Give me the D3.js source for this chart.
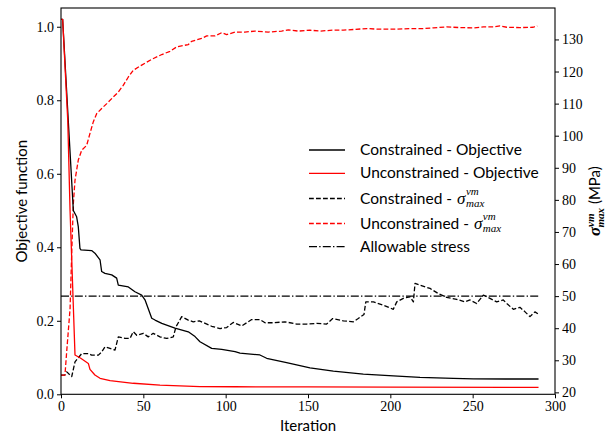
<!DOCTYPE html>
<html><head><meta charset="utf-8">
<script src="https://cdn.jsdelivr.net/npm/d3@7"></script>
<style>body{margin:0;background:#fff}svg{display:block}</style>
</head><body><svg id="c" width="612" height="436"></svg>
<script>
// ---------- data ----------
const xTicks = [0, 50, 100, 150, 200, 250, 300];
const leftTicks = [0.0, 0.2, 0.4, 0.6, 0.8, 1.0];
const rightTicks = [20, 30, 40, 50, 60, 70, 80, 90, 100, 110, 120, 130];

const conObjIter = [0,1,4.4,7.5,9.5,10.5,11.5,12.1,18.6,20.6,23.7,24.7,26.7,30.8,33.8,34.8,40.9,44.9,49,51,55.1,57.1,61.2,69.2,77.3,81.4,84.4,91.5,97.6,105.7,108.7,120.8,124.9,137,151.2,165.4,183.6,201.8,218,238.3,250.4,270,290];
const conObjVal  = [1.02,1.02,0.746,0.50,0.483,0.456,0.397,0.393,0.391,0.384,0.366,0.334,0.329,0.325,0.316,0.297,0.292,0.279,0.270,0.257,0.207,0.202,0.193,0.180,0.170,0.157,0.143,0.125,0.122,0.116,0.112,0.107,0.098,0.086,0.072,0.063,0.055,0.050,0.046,0.0435,0.042,0.0416,0.0416];

const unObjIter = [0,1,4.1,5.5,8.5,12,16.6,17.6,20.6,23.7,29.8,43.9,60.1,84.4,105.7,150,200,290];
const unObjVal  = [1.02,1.02,0.746,0.50,0.107,0.098,0.084,0.068,0.0525,0.0435,0.037,0.030,0.025,0.021,0.0205,0.020,0.0195,0.019];

const conSigIter = [0,2.4,3.5,6.5,8.5,12.6,16.6,18.6,22.7,24.7,26.7,29.8,32.8,34.8,38.9,41.9,43.9,46,50,53,56,60.1,64.2,68.2,69.8,73.3,77.3,80.3,84,91.5,96.6,100.6,104.6,109.7,115.8,120.8,123.9,129,136,143.1,149.2,155.3,161.3,165,171.5,177.6,180.5,184,185.1,189.7,195.7,201.8,203.9,207.9,212,214,215,218,224.1,229.1,234.2,240.3,245.3,248.4,252.4,256.5,260.5,264.6,268.6,270.7,274.7,278.7,281.8,284.8,287.8,289.9];
const conSigVal  = [25.4,25.4,26.4,24.9,29.5,32.1,32.1,31.6,31.6,32.6,34.2,33.7,33.2,37.3,36.8,36.8,38.9,37.8,38.4,37.3,38.4,37.3,36.8,37.3,40.4,43.6,42.5,42.0,42.3,40.6,39.9,40.2,41.8,40.7,42.7,42.7,41.7,41.7,42.0,41.3,41.3,41.5,41.3,43.0,42.3,42.0,43.0,44.3,48.2,48.2,47.2,45.9,48.2,49.3,49.8,48.2,54.0,53.4,52.4,50.8,49.6,49.0,48.2,48.8,47.7,50.3,49.3,48.2,48.8,47.7,45.9,46.5,45.1,43.6,45.1,44.4];

const unSigIter = [0,2.4,3.5,5.5,6.5,7.5,8.5,10.5,12.6,15.6,17.6,19.6,21.7,24.7,27.8,31.8,34.8,37.8,40.9,43.9,49,55.1,61.2,66.2,70.3,77.3,79.3,85.4,88.5,93.5,97.6,100.6,105.7,111.7,117.8,125.9,134,138,144.1,151.2,157.3,165.4,171.5,177.6,185.7,191.8,203.9,212,220.1,226.2,234.2,242.3,250.4,256.5,262.5,266.6,270.7,278.7,286.8,289.2];
const unSigVal  = [25.4,25.4,33,46,63.3,78.9,86.1,92.4,95.5,97,100.7,104.3,106.9,108.5,110,112.1,113.6,115.7,118.3,120.4,122,123.8,125.3,126.3,127.7,128.4,129.4,130.3,131.1,131.1,132.1,131.5,132.3,132.3,132.6,132.3,132.6,133,132.6,132.9,132.6,132.9,132.9,133.1,133.4,133.2,133.2,133.4,133.4,133.6,133.9,133.7,133.6,133.9,133.9,134.2,133.8,133.7,133.8,134.2];

const allowIter = [0, 290];
const allowVal = [50, 50];

const legendLabels = ["Constrained - Objective", "Unconstrained - Objective", "Constrained -\u00a0", "Unconstrained -\u00a0", "Allowable stress"];

// ---------- layout ----------
const svg = d3.select('#c');
const X0 = 61, X1 = 555, YT = 8, YB = 394.3;
const x = d3.scaleLinear().domain([0, 300]).range([X0, X1]);
const yL = d3.scaleLinear().domain([0, 1.051]).range([YB, YT]);
const yR = d3.scaleLinear().domain([19.4, 139.8]).range([YB, YT]);

const SERIF = "'Liberation Serif', 'DejaVu Serif', serif";
const SANS = "Lato, 'Open Sans', sans-serif";
const RED = "#ff0000";
const LW = 1.3;
const DASH = "4.8,2.2";
const DASHDOT = "8,2.2,1.4,2.2";

svg.append('defs').append('clipPath').attr('id', 'clip')
  .append('rect').attr('x', X0).attr('y', YT).attr('width', X1 - X0).attr('height', YB - YT);

const g = svg.append('g').attr('clip-path', 'url(#clip)');
function drawLine(iters, vals, ys, color, dash) {
  const pts = iters.map((d, i) => [d, vals[i]]);
  const line = d3.line().x(d => x(d[0])).y(d => ys(d[1]));
  g.append('path').datum(pts).attr('d', line)
    .attr('fill', 'none').attr('stroke', color).attr('stroke-width', LW)
    .attr('stroke-linejoin', 'round')
    .attr('stroke-dasharray', dash || null);
}
drawLine(allowIter, allowVal, yR, '#000', DASHDOT);
drawLine(conSigIter, conSigVal, yR, '#000', DASH);
drawLine(unSigIter, unSigVal, yR, RED, DASH);
drawLine(conObjIter, conObjVal, yL, '#000');
drawLine(unObjIter, unObjVal, yL, RED);

// axes
function styleAxis(sel) {
  sel.select('.domain').remove();
  sel.selectAll('.tick line').attr('stroke', '#000').attr('stroke-width', 1);
  sel.selectAll('.tick text').attr('font-family', SERIF).attr('font-size', 14).attr('fill', '#000');
}
svg.append('g').attr('transform', `translate(0,${YB})`)
  .call(d3.axisBottom(x).tickValues(xTicks).tickSize(4).tickPadding(3).tickFormat(d3.format('d')))
  .call(styleAxis);
svg.append('g').attr('transform', `translate(${X0},0)`)
  .call(d3.axisLeft(yL).tickValues(leftTicks).tickSize(4).tickPadding(3).tickFormat(d3.format('.1f')))
  .call(styleAxis);
svg.append('g').attr('transform', `translate(${X1},0)`)
  .call(d3.axisRight(yR).tickValues(rightTicks).tickSize(4).tickPadding(3).tickFormat(d3.format('d')))
  .call(styleAxis);

svg.append('rect').attr('x', X0).attr('y', YT).attr('width', X1 - X0).attr('height', YB - YT)
  .attr('fill', 'none').attr('stroke', '#000').attr('stroke-width', 1.1);

// axis labels
svg.append('text').attr('x', (X0 + X1) / 2).attr('y', 431).attr('text-anchor', 'middle')
  .attr('font-family', SANS).attr('font-size', 15).text('Iteration');
svg.append('text').attr('transform', `translate(27,${(YT + YB) / 2}) rotate(-90)`).attr('text-anchor', 'middle')
  .attr('font-family', SANS).attr('font-size', 15).text('Objective function');

// right label: sigma^{vm}_{max} (MPa)
const rl = svg.append('g');
const rt = rl.append('text').attr('font-size', 15).attr('font-family', SANS);
rt.append('tspan').attr('font-family', SERIF).attr('font-style', 'italic').attr('font-weight', 'bold')
  .attr('font-size', 17).text('σ');
rt.append('tspan').attr('font-family', SERIF).attr('font-style', 'italic').attr('font-weight', 'bold')
  .attr('font-size', 11).attr('dy', -6).text('vm');
rt.append('tspan').attr('font-family', SERIF).attr('font-style', 'italic').attr('font-weight', 'bold')
  .attr('font-size', 11).attr('dy', 10).attr('dx', -14).text('max');
rt.append('tspan').attr('dy', -4).text('\u00a0(MPa)');
{
  const bb = rt.node().getBBox();
  rl.attr('transform', `translate(600,${(YT + YB) / 2}) rotate(-90) translate(${-bb.x - bb.width / 2},0)`);
}

// legend
const LX0 = 309, LX1 = 345, TX = 360;
const rows = [
  {y: 150, color: '#000', dash: null},
  {y: 173.3, color: RED, dash: null},
  {y: 198.5, color: '#000', dash: DASH, sigma: true},
  {y: 223.5, color: RED, dash: DASH, sigma: true},
  {y: 246.7, color: '#000', dash: DASHDOT}
];
rows.forEach((r, i) => {
  svg.append('line').attr('x1', LX0).attr('x2', LX1).attr('y1', r.y).attr('y2', r.y)
    .attr('stroke', r.color).attr('stroke-width', LW).attr('stroke-dasharray', r.dash);
  const t = svg.append('text').attr('x', TX).attr('y', r.y + 5).attr('font-family', SANS).attr('font-size', 15.5)
    .text(legendLabels[i]);
  if (r.sigma) {
    const w = t.node().getComputedTextLength();
    const sx = TX + w + 1;
    const s = svg.append('text').attr('x', sx).attr('y', r.y + 5).attr('font-family', SERIF)
      .attr('font-style', 'italic').attr('font-size', 17).text('σ');
    const sw = s.node().getComputedTextLength();
    svg.append('text').attr('x', sx + sw + 0.5).attr('y', r.y - 3.5).attr('font-family', SERIF)
      .attr('font-style', 'italic').attr('font-size', 11).text('vm');
    svg.append('text').attr('x', sx + sw + 0.5).attr('y', r.y + 8).attr('font-family', SERIF)
      .attr('font-style', 'italic').attr('font-size', 11).text('max');
  }
});
</script></body></html>
